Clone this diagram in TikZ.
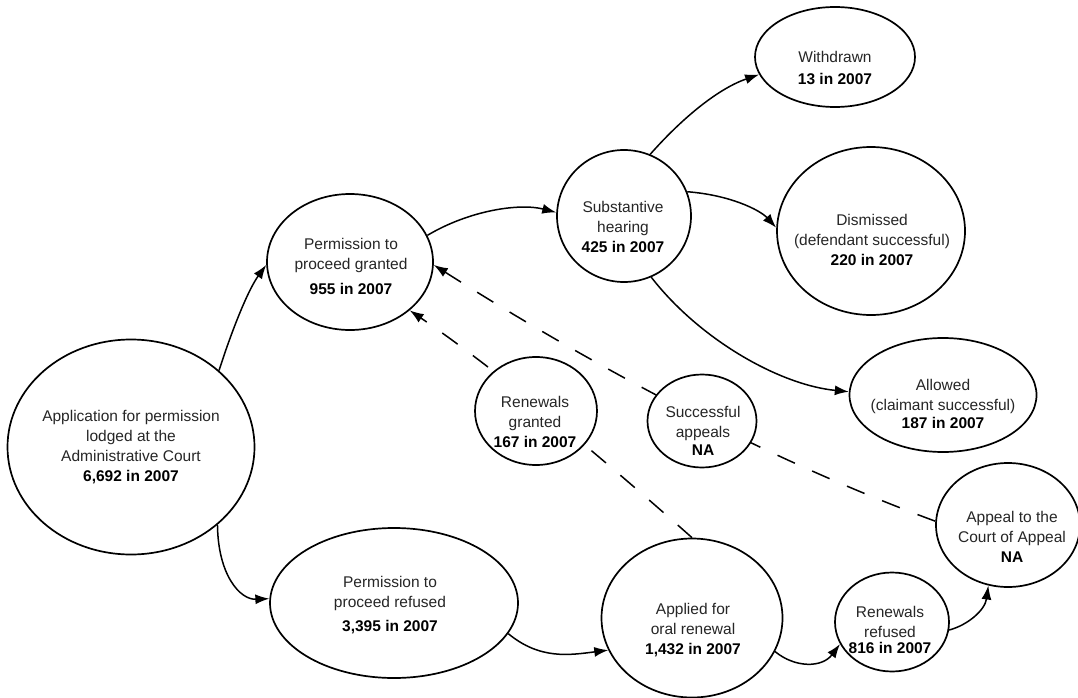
\documentclass[tikz,border=0pt]{standalone}
\usepackage{fontspec}
\setmainfont{Liberation Sans}
\usetikzlibrary{shapes.geometric,arrows.meta,backgrounds}
\definecolor{txt}{HTML}{262626}
\begin{document}
\begin{tikzpicture}[x=1pt,y=-1pt,
  ell/.style={ellipse, draw=black, fill=white, line width=1.7pt, inner sep=0pt},
  lbl/.style={align=center, font=\fontsize{15.5}{20}\selectfont, text=txt},
  con/.style={line width=1.5pt, -{Latex[length=14pt,width=10pt]}},
  dsh/.style={con, dash pattern=on 19pt off 19pt}]
\useasboundingbox (0,0) rectangle (1078,698);
% ellipses
\node[ell, minimum width=247pt, minimum height=215pt] (app) at (131,447) {};
\node[ell, minimum width=166pt, minimum height=136pt] (pg) at (350,262) {};
\node[ell, minimum width=134pt, minimum height=132pt] (sh) at (624,216) {};
\node[ell, minimum width=160pt, minimum height=100pt] (wd) at (835,57) {};
\node[ell, minimum width=188pt, minimum height=168pt] (dm) at (871,231) {};
\node[ell, minimum width=187pt, minimum height=114pt] (al) at (943,395) {};
\node[ell, minimum width=122pt, minimum height=108pt] (rg) at (536,411) {};
\node[ell, minimum width=109pt, minimum height=93pt] (sa) at (702,421) {};
\node[ell, minimum width=144pt, minimum height=124pt] (coa) at (1008,525) {};
\node[ell, minimum width=248pt, minimum height=150pt] (pr) at (394,603) {};
\node[ell, minimum width=181pt, minimum height=159pt] (ao) at (692,618) {};
\node[ell, minimum width=114pt, minimum height=99pt] (rr) at (892,622) {};
% texts
\node[lbl] (appt) at (131,447) {Application for permission\\lodged at the\\Administrative Court\\\textbf{\color{black}6,692 in 2007}};
\node[lbl] (pgt) at (351,266) {Permission to\\proceed granted\\[5pt]\textbf{\color{black}955 in 2007}};
\node[lbl] (sht) at (623,227) {Substantive\\hearing\\\textbf{\color{black}425 in 2007}};
\node[lbl] (wdt) at (835,68) {Withdrawn\\[2pt]\textbf{\color{black}13 in 2007}};
\node[lbl] (dmt) at (872,240) {Dismissed\\(defendant successful)\\\textbf{\color{black}220 in 2007}};
\node[lbl] (alt) at (943,404) {Allowed\\(claimant successful)\\[-2pt]\textbf{\color{black}187 in 2007}};
\node[lbl] (rgt) at (535,422) {Renewals\\granted\\\textbf{\color{black}167 in 2007}};
\node[lbl] (sat) at (703,431) {Successful\\appeals\\[-2pt]\textbf{\color{black}NA}};
\node[lbl] (coat) at (1012,537) {Appeal to the\\Court of Appeal\\\textbf{\color{black}NA}};
\node[lbl] (prt) at (390,605) {Permission to\\proceed refused\\[4pt]\textbf{\color{black}3,395 in 2007}};
\node[lbl] (aot) at (693,630) {Applied for\\oral renewal\\\textbf{\color{black}1,432 in 2007}};
\node[lbl] (rrt) at (890,630) {Renewals\\refused\\[-4pt]\textbf{\color{black}816 in 2007}};
% connectors
\draw[con] (app.41) .. controls (232,330) and (248,290) .. (pg.182);
\draw[con] (app.-42) .. controls (218,575) and (240,600) .. (pr.178);
\draw[con] (pg.19) .. controls (470,210) and (520,203) .. (sh.177);
\draw[con] (sh.67) .. controls (685,115) and (720,88) .. (wd.193);
\draw[con] (sh.21) .. controls (730,195) and (760,210) .. (dm.178);
\draw[con] (sh.-66) .. controls (700,340) and (780,385) .. (al.178);
\draw[con] (pr.-15) .. controls (540,660) and (570,655) .. (ao.201);
\draw[con] (ao.-22) .. controls (795,668) and (822,668) .. (rr.203);
\draw[con] (rr.-8) .. controls (968,625) and (985,610) .. (coa.252);
\begin{pgfonlayer}{background}
\draw[dsh] (ao.90) .. controls (584,442) and (491,366) .. (pg.-39);
\draw[dsh] (coa.177) .. controls (783,465) and (615,380) .. (pg.-2);
\end{pgfonlayer}
\end{tikzpicture}
\end{document}
